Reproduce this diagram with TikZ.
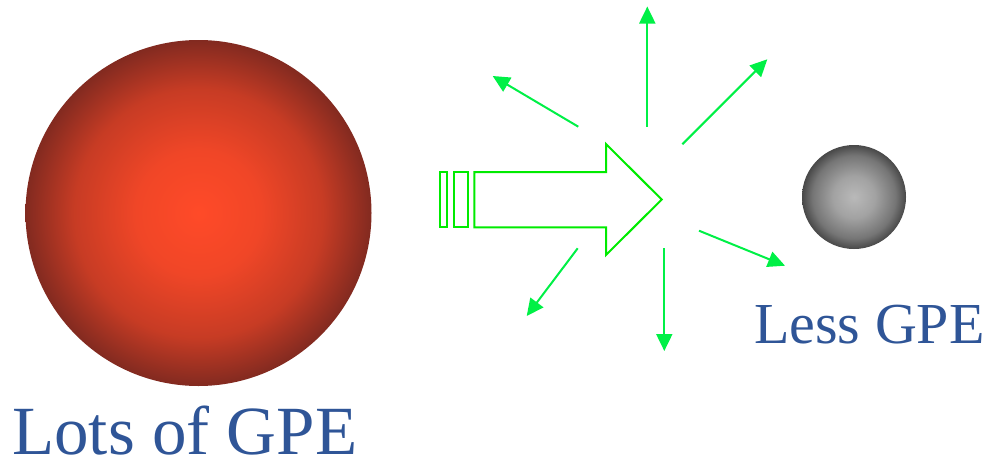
\documentclass[tikz,border=0pt]{standalone}
\usepackage{fontspec}
\setmainfont{Liberation Serif}
\usetikzlibrary{arrows.meta}

\definecolor{labelblue}{RGB}{47,85,151}
\definecolor{burstgreen}{RGB}{0,240,70}
\definecolor{blockgreen}{RGB}{0,235,0}
\definecolor{redcore}{RGB}{255,74,40}
\definecolor{redrim}{RGB}{130,42,32}
\definecolor{greycore}{RGB}{185,185,185}
\definecolor{greyrim}{RGB}{72,72,72}

% centred radial gradients; 25bp is the rim of the shaded circle
\pgfdeclareradialshading{redball}{\pgfpoint{0bp}{0bp}}{%
  color(0bp)=(redcore); color(9bp)=(redcore!88!redrim); color(18bp)=(redcore!55!redrim);
  color(25bp)=(redrim); color(50bp)=(redrim)}
\pgfdeclareradialshading{greyball}{\pgfpoint{0bp}{0bp}}{%
  color(0bp)=(greycore); color(10bp)=(greycore!80!greyrim); color(20bp)=(greycore!40!greyrim);
  color(25bp)=(greyrim); color(50bp)=(greyrim)}

\tikzset{
  ball/.style={circle, inner sep=0pt, draw=none},
  gpelabel/.style={text=labelblue, inner sep=0pt, text depth=0pt, anchor=base west},
  burst/.style={draw=burstgreen, line width=2pt,
    -{Triangle[length=17pt, width=16pt]}},
  blockline/.style={draw=blockgreen, line width=2pt, line join=miter},
}

\begin{document}
\begin{tikzpicture}[x=1pt, y=-1pt]
  \useasboundingbox (0,0) rectangle (987,458);

  % spheres
  \node[ball, minimum size=346pt, shading=redball] (big) at (198.5,213) {};
  \node[ball, minimum size=104pt, shading=greyball] (small) at (854,197) {};

  % labels
  \node[gpelabel, font=\fontsize{69}{69}\selectfont] (lots) at (12,454) {Lots of GPE};
  \node[gpelabel, font=\fontsize{58}{58}\selectfont] (less) at (754,343.5) {Less GPE};

  % block arrow with two trailing bars
  \draw[blockline] (440,172) rectangle (447.3,227.3);
  \draw[blockline] (454,172) rectangle (468.3,227.3);
  \draw[blockline] (474.3,172) -- (606,172) -- (606,144) -- (661.7,199.5)
    -- (606,255) -- (606,227.3) -- (474.3,227.3) -- cycle;

  % burst: inner ends and outer tips
  \coordinate (ul0) at (578.3,126.7);  \coordinate (ul1) at (492.7,76);
  \coordinate (u0)  at (647.3,126.7);  \coordinate (u1)  at (647.3,6.5);
  \coordinate (ur0) at (682.3,144.3);  \coordinate (ur1) at (767.3,59.3);
  \coordinate (dr0) at (699,230.7);    \coordinate (dr1) at (785,265.7);
  \coordinate (d0)  at (664.3,248.3);  \coordinate (d1)  at (664.3,351);
  \coordinate (dl0) at (577.7,248.3);  \coordinate (dl1) at (526.7,316);

  \draw[burst] (ul0) -- (ul1);
  \draw[burst] (u0) -- (u1);
  \draw[burst] (ur0) -- (ur1);
  \draw[burst] (dr0) -- (dr1);
  \draw[burst] (d0) -- (d1);
  \draw[burst] (dl0) -- (dl1);
\end{tikzpicture}
\end{document}
